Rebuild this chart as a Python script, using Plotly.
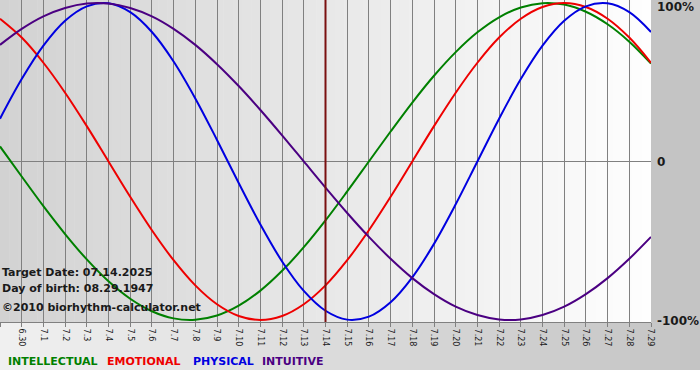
import plotly.graph_objects as go

dates = ["6.29", "6.30", "7.1", "7.2", "7.3", "7.4", "7.5", "7.6", "7.7", "7.8", "7.9",
         "7.10", "7.11", "7.12", "7.13", "7.14", "7.15", "7.16", "7.17", "7.18", "7.19",
         "7.20", "7.21", "7.22", "7.23", "7.24", "7.25", "7.26", "7.27", "7.28", "7.29"]

intellectual = [0.095, -0.095, -0.282, -0.458, -0.618, -0.756, -0.866, -0.945, -0.990, -0.999,
                -0.972, -0.910, -0.815, -0.690, -0.541, -0.372, -0.189, 0.0, 0.189, 0.372,
                0.541, 0.690, 0.815, 0.910, 0.972, 0.999, 0.990, 0.945, 0.866, 0.756, 0.618]
emotional = [0.901, 0.782, 0.623, 0.434, 0.223, 0.0, -0.223, -0.434, -0.623, -0.782,
             -0.901, -0.975, -1.0, -0.975, -0.901, -0.782, -0.623, -0.434, -0.223, 0.0,
             0.223, 0.434, 0.623, 0.782, 0.901, 0.975, 1.0, 0.975, 0.901, 0.782, 0.623]
physical = [0.270, 0.520, 0.731, 0.888, 0.979, 0.998, 0.942, 0.817, 0.631, 0.398,
            0.136, -0.136, -0.398, -0.631, -0.817, -0.942, -0.998, -0.979, -0.888, -0.731,
            -0.520, -0.270, 0.0, 0.270, 0.520, 0.731, 0.888, 0.979, 0.998, 0.942, 0.817]
intuitive = [0.736, 0.837, 0.916, 0.969, 0.997, 0.997, 0.969, 0.916, 0.837, 0.736,
             0.614, 0.476, 0.325, 0.165, 0.0, -0.165, -0.325, -0.476, -0.614, -0.736,
             -0.837, -0.916, -0.969, -0.997, -0.997, -0.969, -0.916, -0.837, -0.736, -0.614, -0.476]

target_label = "7.14"
series = [("INTELLECTUAL", intellectual, "#008000"),
          ("EMOTIONAL", emotional, "#ee0000"),
          ("PHYSICAL", physical, "#0000e0"),
          ("INTUITIVE", intuitive, "#4b0082")]

W, H = 700, 380
PX0, PX1 = 0, 651   # plot area in pixels
PY0, PY1 = 0, 322

def px(x):
    return x / W

def py(y):
    return 1 - y / H

xs = list(range(len(dates)))
fig = go.Figure()

for name, vals, col in series:
    fig.add_trace(go.Scatter(x=xs, y=vals, mode="lines", name=name,
                             line=dict(color=col, width=2, shape="spline", smoothing=1.0),
                             hoverinfo="skip", showlegend=False))

shapes = []
# plot-area gradient (gray left -> white right)
n = 70
for i in range(n):
    x0 = PX0 + (PX1 - PX0) * i / n
    x1 = PX0 + (PX1 - PX0) * (i + 1) / n + 0.5
    t = (i + 0.5) / n
    v = int(round(210 + (254 - 210) * t))
    shapes.append(dict(type="rect", xref="paper", yref="paper", layer="below",
                       x0=px(x0), x1=px(x1), y0=py(PY1), y1=py(PY0),
                       fillcolor=f"rgb({v},{v},{v})", line=dict(width=0)))
# right panel
shapes.append(dict(type="rect", xref="paper", yref="paper", layer="below",
                   x0=px(PX1), x1=1, y0=py(PY1), y1=1,
                   fillcolor="rgb(196,196,196)", line=dict(width=0)))
# bottom panel gradient (light left -> darker right)
for i in range(n):
    x0 = W * i / n
    x1 = W * (i + 1) / n + 0.5
    t = (i + 0.5) / n
    v = int(round(240 - (240 - 196) * t))
    shapes.append(dict(type="rect", xref="paper", yref="paper", layer="below",
                       x0=px(x0), x1=px(x1), y0=py(370), y1=py(PY1),
                       fillcolor=f"rgb({v},{v},{v})", line=dict(width=0)))
# target date line
shapes.append(dict(type="line", xref="x", yref="paper", layer="above",
                   x0=dates.index(target_label), x1=dates.index(target_label),
                   y0=py(PY1), y1=1, line=dict(color="#7a1010", width=2)))

annotations = []
info = ["Target Date: 07.14.2025", "Day of birth: 08.29.1947", "\u00a92010 biorhythm-calculator.net"]
info_y = [272, 288, 307]
for txt, yy in zip(info, info_y):
    annotations.append(dict(text="<b>" + txt + "</b>", xref="paper", yref="paper",
                            x=px(0), y=py(yy), xanchor="left", yanchor="middle",
                            showarrow=False, font=dict(family="DejaVu Sans", size=11, color="#1a1a1a")))
# right side labels
for txt, yy in [("100%", 7), ("0", 162), ("-100%", 321)]:
    annotations.append(dict(text="<b>" + txt + "</b>", xref="paper", yref="paper",
                            x=px(655), y=py(yy), xanchor="left", yanchor="middle",
                            showarrow=False, font=dict(family="DejaVu Sans", size=12, color="#1a1a1a")))
# legend
leg_x = [6, 105, 191, 260]
for (name, _, col), lx in zip(series, leg_x):
    annotations.append(dict(text="<b>" + name + "</b>", xref="paper", yref="paper",
                            x=px(lx), y=py(361), xanchor="left", yanchor="middle",
                            showarrow=False, font=dict(family="DejaVu Sans", size=11, color=col)))

fig.update_layout(
    width=W, height=H,
    margin=dict(l=0, r=0, t=0, b=0),
    paper_bgcolor="white",
    plot_bgcolor="rgba(0,0,0,0)",
    shapes=shapes,
    annotations=annotations,
    xaxis=dict(domain=[px(PX0), px(PX1)], range=[0, len(dates) - 1],
               tickmode="array", tickvals=xs, ticktext=dates, tickangle=90,
               ticks="outside", ticklen=4, tickcolor="#808080",
               showgrid=True, gridcolor="#808080", gridwidth=1,
               showline=True, linecolor="#808080", linewidth=1,
               zeroline=False, automargin=False,
               tickfont=dict(family="DejaVu Sans", size=8, color="#1a1a1a")),
    yaxis=dict(domain=[py(PY1), py(PY0)], range=[-1.013, 1.019],
               showgrid=False, zeroline=True, zerolinecolor="#808080", zerolinewidth=1,
               showticklabels=False, automargin=False),
)

fig.write_html("out.html", config={"displayModeBar": False, "staticPlot": True},
               post_script="document.body.style.margin='0';document.body.style.overflow='hidden';")
